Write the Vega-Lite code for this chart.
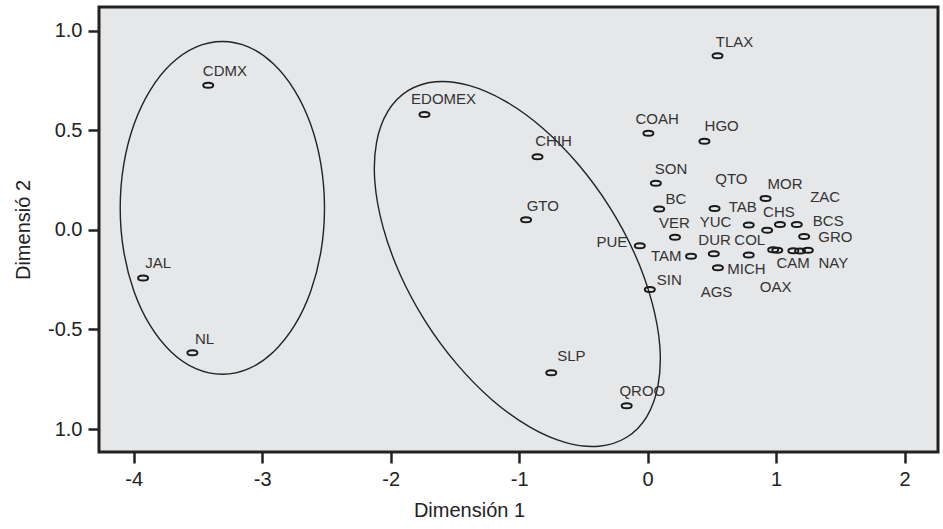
{
  "$schema": "https://vega.github.io/schema/vega-lite/v6.json",
  "autosize": "none",
  "width": 839,
  "height": 445,
  "padding": {"left": 99, "top": 7, "right": 5, "bottom": 77},
  "background": "#ffffff",
  "config": {
    "view": {"stroke": "#222222", "strokeWidth": 3, "fill": "#e6e7e9"},
    "font": "Liberation Sans",
    "axis": {
      "domain": false,
      "grid": false,
      "tickColor": "#222222",
      "tickWidth": 2.5,
      "tickSize": 11,
      "labelFont": "Liberation Sans",
      "labelFontSize": 20,
      "labelColor": "#222222",
      "labelPadding": 6,
      "titleFont": "Liberation Sans",
      "titleFontSize": 20,
      "titleFontWeight": "normal",
      "titleColor": "#222222"
    }
  },
  "datasets": {
    "states": [
      {"state": "CDMX", "d1": -3.420, "d2": 0.725, "lx": -3.290, "ly": 0.795},
      {"state": "EDOMEX", "d1": -1.737, "d2": 0.579, "lx": -1.588, "ly": 0.654},
      {"state": "CHIH", "d1": -0.857, "d2": 0.367, "lx": -0.732, "ly": 0.445},
      {"state": "GTO", "d1": -0.946, "d2": 0.050, "lx": -0.816, "ly": 0.117},
      {"state": "COAH", "d1": 0.006, "d2": 0.484, "lx": 0.074, "ly": 0.557},
      {"state": "TLAX", "d1": 0.544, "d2": 0.874, "lx": 0.677, "ly": 0.944},
      {"state": "HGO", "d1": 0.442, "d2": 0.444, "lx": 0.576, "ly": 0.519},
      {"state": "JAL", "d1": -3.927, "d2": -0.242, "lx": -3.810, "ly": -0.167},
      {"state": "NL", "d1": -3.543, "d2": -0.617, "lx": -3.449, "ly": -0.547},
      {"state": "SLP", "d1": -0.750, "d2": -0.717, "lx": -0.594, "ly": -0.635},
      {"state": "QROO", "d1": -0.163, "d2": -0.883, "lx": -0.041, "ly": -0.810},
      {"state": "SIN", "d1": 0.017, "d2": -0.300, "lx": 0.168, "ly": -0.252},
      {"state": "SON", "d1": 0.064, "d2": 0.234, "lx": 0.182, "ly": 0.304},
      {"state": "BC", "d1": 0.090, "d2": 0.104, "lx": 0.221, "ly": 0.157},
      {"state": "QTO", "d1": 0.521, "d2": 0.107, "lx": 0.652, "ly": 0.254},
      {"state": "MOR", "d1": 0.918, "d2": 0.157, "lx": 1.069, "ly": 0.229},
      {"state": "TAB", "d1": 0.787, "d2": 0.024, "lx": 0.740, "ly": 0.114},
      {"state": "CHS", "d1": 1.030, "d2": 0.027, "lx": 1.022, "ly": 0.089},
      {"state": "ZAC", "d1": 0.930, "d2": -0.002, "lx": 1.382, "ly": 0.165},
      {"state": "BCS", "d1": 1.161, "d2": 0.027, "lx": 1.406, "ly": 0.044},
      {"state": "GRO", "d1": 1.218, "d2": -0.033, "lx": 1.461, "ly": -0.037},
      {"state": "VER", "d1": 0.213, "d2": -0.037, "lx": 0.208, "ly": 0.034},
      {"state": "YUC", "d1": 1.186, "d2": -0.107, "lx": 0.529, "ly": 0.039},
      {"state": "PUE", "d1": -0.061, "d2": -0.080, "lx": -0.278, "ly": -0.062},
      {"state": "TAM", "d1": 0.338, "d2": -0.133, "lx": 0.145, "ly": -0.132},
      {"state": "DUR", "d1": 0.515, "d2": -0.120, "lx": 0.521, "ly": -0.052},
      {"state": "COL", "d1": 0.787, "d2": -0.127, "lx": 0.795, "ly": -0.052},
      {"state": "MICH", "d1": 0.547, "d2": -0.190, "lx": 0.769, "ly": -0.197},
      {"state": "AGS", "d1": 0.977, "d2": -0.100, "lx": 0.536, "ly": -0.312},
      {"state": "OAX", "d1": 1.009, "d2": -0.102, "lx": 0.996, "ly": -0.285},
      {"state": "CAM", "d1": 1.134, "d2": -0.105, "lx": 1.132, "ly": -0.167},
      {"state": "NAY", "d1": 1.247, "d2": -0.103, "lx": 1.445, "ly": -0.167}
    ],
    "ellipses": [
      {"grp": "A", "k": 0, "d1": -2.515, "d2": 0.110},
      {"grp": "A", "k": 1, "d1": -2.542, "d2": 0.326},
      {"grp": "A", "k": 2, "d1": -2.622, "d2": 0.528},
      {"grp": "A", "k": 3, "d1": -2.748, "d2": 0.700},
      {"grp": "A", "k": 4, "d1": -2.913, "d2": 0.833},
      {"grp": "A", "k": 5, "d1": -3.104, "d2": 0.917},
      {"grp": "A", "k": 6, "d1": -3.310, "d2": 0.945},
      {"grp": "A", "k": 7, "d1": -3.516, "d2": 0.917},
      {"grp": "A", "k": 8, "d1": -3.708, "d2": 0.833},
      {"grp": "A", "k": 9, "d1": -3.872, "d2": 0.700},
      {"grp": "A", "k": 10, "d1": -3.998, "d2": 0.528},
      {"grp": "A", "k": 11, "d1": -4.078, "d2": 0.326},
      {"grp": "A", "k": 12, "d1": -4.105, "d2": 0.110},
      {"grp": "A", "k": 13, "d1": -4.078, "d2": -0.106},
      {"grp": "A", "k": 14, "d1": -3.998, "d2": -0.308},
      {"grp": "A", "k": 15, "d1": -3.872, "d2": -0.480},
      {"grp": "A", "k": 16, "d1": -3.708, "d2": -0.613},
      {"grp": "A", "k": 17, "d1": -3.516, "d2": -0.697},
      {"grp": "A", "k": 18, "d1": -3.310, "d2": -0.725},
      {"grp": "A", "k": 19, "d1": -3.104, "d2": -0.697},
      {"grp": "A", "k": 20, "d1": -2.913, "d2": -0.613},
      {"grp": "A", "k": 21, "d1": -2.748, "d2": -0.480},
      {"grp": "A", "k": 22, "d1": -2.622, "d2": -0.308},
      {"grp": "A", "k": 23, "d1": -2.542, "d2": -0.106},
      {"grp": "B", "k": 0, "d1": -0.163, "d2": -1.041},
      {"grp": "B", "k": 1, "d1": -0.006, "d2": -0.937},
      {"grp": "B", "k": 2, "d1": 0.081, "d2": -0.781},
      {"grp": "B", "k": 3, "d1": 0.095, "d2": -0.584},
      {"grp": "B", "k": 4, "d1": 0.032, "d2": -0.359},
      {"grp": "B", "k": 5, "d1": -0.101, "d2": -0.120},
      {"grp": "B", "k": 6, "d1": -0.297, "d2": 0.115},
      {"grp": "B", "k": 7, "d1": -0.542, "d2": 0.330},
      {"grp": "B", "k": 8, "d1": -0.818, "d2": 0.511},
      {"grp": "B", "k": 9, "d1": -1.109, "d2": 0.646},
      {"grp": "B", "k": 10, "d1": -1.392, "d2": 0.725},
      {"grp": "B", "k": 11, "d1": -1.650, "d2": 0.743},
      {"grp": "B", "k": 12, "d1": -1.865, "d2": 0.698},
      {"grp": "B", "k": 13, "d1": -2.022, "d2": 0.594},
      {"grp": "B", "k": 14, "d1": -2.110, "d2": 0.438},
      {"grp": "B", "k": 15, "d1": -2.123, "d2": 0.241},
      {"grp": "B", "k": 16, "d1": -2.060, "d2": 0.015},
      {"grp": "B", "k": 17, "d1": -1.927, "d2": -0.223},
      {"grp": "B", "k": 18, "d1": -1.731, "d2": -0.458},
      {"grp": "B", "k": 19, "d1": -1.486, "d2": -0.673},
      {"grp": "B", "k": 20, "d1": -1.210, "d2": -0.854},
      {"grp": "B", "k": 21, "d1": -0.919, "d2": -0.989},
      {"grp": "B", "k": 22, "d1": -0.636, "d2": -1.068},
      {"grp": "B", "k": 23, "d1": -0.378, "d2": -1.086}
    ]
  },
  "layer": [
    {
      "mark": {"type": "rule", "color": "#333333", "strokeWidth": 1.5},
      "encoding": {
        "x": {"datum": 0, "type": "quantitative", "scale": {"domain": [-4.27, 2.26], "nice": false, "zero": false},
          "axis": {"values": [-4, -3, -2, -1, 0, 1, 2], "labelExpr": "'' + datum.value", "title": "Dimensión 1", "titleX": 370, "titleY": 58, "titleBaseline": "middle"}},
        "y": {"datum": 0, "type": "quantitative"}
      },
      "data": {"values": [{}]}
    },
    {
      "data": {"name": "ellipses"},
      "mark": {"type": "line", "color": "#222222", "strokeWidth": 1.4, "interpolate": "cardinal-closed", "clip": true},
      "encoding": {
        "x": {"field": "d1", "type": "quantitative"},
        "y": {"field": "d2", "type": "quantitative"},
        "detail": {"field": "grp"},
        "order": {"field": "k", "type": "quantitative"}
      }
    },
    {
      "data": {"name": "states"},
      "mark": {"type": "point", "filled": false, "color": "#1a1a1a", "strokeWidth": 2, "size": 100,
        "shape": "M -1 0 A 1 0.5 0 1 1 1 0 A 1 0.5 0 1 1 -1 0 Z", "opacity": 1},
      "encoding": {
        "x": {"field": "d1", "type": "quantitative"},
        "y": {"field": "d2", "type": "quantitative"}
      }
    },
    {
      "data": {"name": "states"},
      "mark": {"type": "text", "font": "Liberation Sans", "fontSize": 15, "color": "#333333", "align": "center", "baseline": "middle"},
      "encoding": {
        "x": {"field": "lx", "type": "quantitative"},
        "y": {"field": "ly", "type": "quantitative"},
        "text": {"field": "state"}
      }
    }
  ],
  "resolve": {"scale": {"x": "shared", "y": "shared"}},
  "encoding": {
    "y": {"type": "quantitative", "scale": {"domain": [-1.115, 1.118], "nice": false, "zero": false},
      "axis": {"values": [-1, -0.5, 0, 0.5, 1], "labelExpr": "datum.value == -1 ? '1.0' : (datum.value < 0 ? '-' + format(-datum.value, '.1f') : format(datum.value, '.1f'))", "title": "Dimensió 2", "titlePadding": 14}}
  }
}
